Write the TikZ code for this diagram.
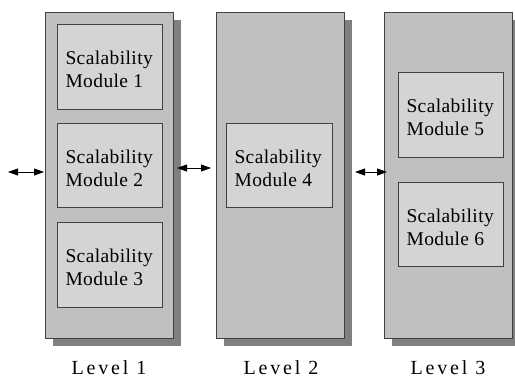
\documentclass[tikz,border=0pt]{standalone}
\usepackage{fontspec}
\setmainfont{Liberation Serif}
\newfontfamily\modfont[LetterSpace=2]{Liberation Serif}
\newfontfamily\levfont[LetterSpace=14]{Liberation Serif}
\usetikzlibrary{arrows.meta}
\definecolor{panelfill}{HTML}{C0C0C0}
\definecolor{shadowfill}{HTML}{808080}
\definecolor{modfill}{HTML}{D4D4D4}
\definecolor{edge}{HTML}{404040}
\tikzset{
  panel/.style={draw=edge, line width=0.8bp, fill=panelfill},
  shadowbox/.style={fill=shadowfill, draw=none},
  module/.style={draw=edge, line width=0.8bp, fill=modfill},
  modtext/.style={font=\modfont\fontsize{19.5bp}{23bp}\selectfont, align=left, anchor=west},
  levtext/.style={font=\levfont\fontsize{20bp}{24bp}\selectfont},
  link/.style={{Triangle[length=10bp,width=7bp]}-{Triangle[length=10bp,width=7bp]}, line width=0.8bp, black}
}
\begin{document}
\begin{tikzpicture}[x=1bp,y=-1bp]
\useasboundingbox (0,0) rectangle (515,385);
% shadows
\fill[shadowfill] (53,20) rectangle (181,346);
\fill[shadowfill] (224,20) rectangle (352,346);
\fill[shadowfill] (392,20) rectangle (520,346);
% panels
\draw[panel] (45,12) rectangle (173,338);
\draw[panel] (216,12) rectangle (344,338);
\draw[panel] (384,12) rectangle (512,338);
\coordinate (p1w) at (44,172);
\coordinate (p1e) at (177,168);
\coordinate (p2w) at (211,168);
\coordinate (p2e) at (355,172);
\coordinate (p3w) at (387,172);
\coordinate (ext) at (8,172);
% modules
\draw[module] (57,24) rectangle (162,109);
\draw[module] (57,123) rectangle (162,207);
\draw[module] (57,222) rectangle (162,307);
\draw[module] (226,123) rectangle (332,207);
\draw[module] (398,72) rectangle (503,157);
\draw[module] (398,182) rectangle (503,266);
\node[modtext] (m1) at (62,69) {Scalability\\Module 1};
\node[modtext] (m2) at (62,168) {Scalability\\Module 2};
\node[modtext] (m3) at (62,267) {Scalability\\Module 3};
\node[modtext] (m4) at (231,168) {Scalability\\Module 4};
\node[modtext] (m5) at (403,117) {Scalability\\Module 5};
\node[modtext] (m6) at (403,227) {Scalability\\Module 6};
% links
\draw[link] (ext) -- (p1w);
\draw[link] (p1e) -- (p2w);
\draw[link] (p2e) -- (p3w);
% levels
\node[levtext] (l1) at (109,368) {Level 1};
\node[levtext] (l2) at (281,368) {Level 2};
\node[levtext] (l3) at (448,368) {Level 3};
\end{tikzpicture}
\end{document}
